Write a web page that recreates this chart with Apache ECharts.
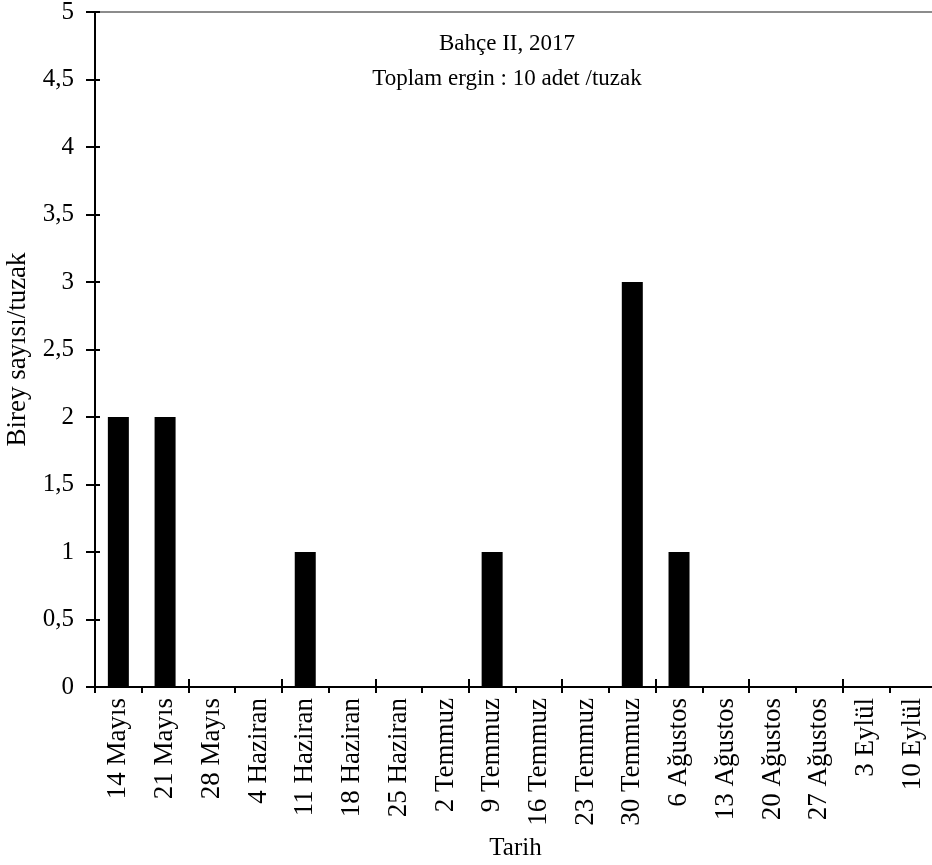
<!DOCTYPE html>
<html>
<head>
<meta charset="utf-8">
<script src="https://cdn.jsdelivr.net/npm/echarts@6/dist/echarts.min.js"></script>
<style>
  html, body { margin: 0; padding: 0; background: #fff; }
  #chart { width: 932px; height: 865px; }
</style>
</head>
<body>
<div id="chart"></div>
<script>
// Weekly trap counts, garden II, 2017
const dates = ['14 Mayıs', '21 Mayıs', '28 Mayıs', '4 Haziran', '11 Haziran', '18 Haziran',
  '25 Haziran', '2 Temmuz', '9 Temmuz', '16 Temmuz', '23 Temmuz', '30 Temmuz',
  '6 Ağustos', '13 Ağustos', '20 Ağustos', '27 Ağustos', '3 Eylül', '10 Eylül'];
const counts = [2, 2, 0, 0, 1, 0, 0, 0, 1, 0, 0, 3, 1, 0, 0, 0, 0, 0];
const titleLines = ['Bahçe II, 2017', 'Toplam ergin : 10 adet /tuzak'];
const yName = 'Birey sayısı/tuzak';
const xName = 'Tarih';

const FONT = '"Liberation Serif", "Times New Roman", serif';
const chart = echarts.init(document.getElementById('chart'), null, { renderer: 'canvas' });

const fmt = v => String(v).replace('.', ',');

chart.setOption({
  animation: false,
  backgroundColor: '#fff',
  title: {
    text: titleLines.join('\n'),
    left: 502, top: 21,
    textAlign: 'center',
    textStyle: { fontFamily: FONT, fontSize: 23, fontWeight: 'normal', color: '#000', lineHeight: 35 }
  },
  grid: { left: 95, top: 12, width: 841, bottom: 178, containLabel: false, outerBoundsMode: 'none' },
  xAxis: [{
    type: 'category',
    data: dates,
    position: 'bottom',
    name: xName,
    nameLocation: 'middle',
    nameGap: 149,
    nameTextStyle: { fontFamily: FONT, fontSize: 25, color: '#000' },
    axisLine: { lineStyle: { color: '#000', width: 2 } },
    axisTick: { show: true, length: 6, alignWithLabel: false, lineStyle: { color: '#000', width: 2 } },
    axisLabel: { rotate: 90, interval: 0, margin: 11, fontFamily: FONT, fontSize: 27, color: '#000' }
  }, {
    // upward half of the category ticks
    type: 'category', data: dates, position: 'bottom',
    axisLine: { show: false },
    axisTick: { show: true, inside: true, length: 8, lineStyle: { color: '#000', width: 2 } },
    axisLabel: { show: false }
  }, {
    // gray frame line along the top
    type: 'category', data: dates, position: 'top',
    axisLine: { lineStyle: { color: '#8c8c8c', width: 2 } },
    axisTick: { show: false }, axisLabel: { show: false }
  }],
  yAxis: [{
    type: 'value',
    min: 0, max: 5, interval: 0.5,
    name: yName,
    nameLocation: 'middle',
    nameGap: 55,
    nameRotate: 90,
    nameTextStyle: { fontFamily: FONT, fontSize: 27, color: '#000' },
    axisLine: { show: true, lineStyle: { color: '#000', width: 2 } },
    axisTick: { show: true, length: 9, lineStyle: { color: '#000', width: 2 } },
    axisLabel: { formatter: fmt, margin: 21, fontFamily: FONT, fontSize: 25, color: '#000' },
    splitLine: { show: false }
  }, {
    // inner half of the value ticks
    type: 'value', min: 0, max: 5, interval: 0.5, position: 'left',
    axisLine: { show: false },
    axisTick: { show: true, inside: true, length: 5, lineStyle: { color: '#000', width: 2 } },
    axisLabel: { show: false },
    splitLine: { show: false }
  }],
  series: [{
    type: 'bar',
    data: counts,
    xAxisIndex: 0, yAxisIndex: 0,
    barWidth: 21,
    itemStyle: { color: '#000' }
  }]
});
</script>
</body>
</html>
